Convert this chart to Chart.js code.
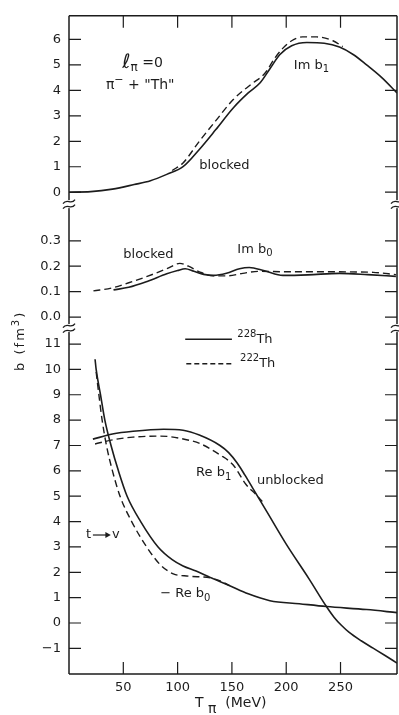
<!DOCTYPE html>
<html>
<head>
<meta charset="utf-8">
<script src="https://cdn.jsdelivr.net/npm/chart.js@4.4.1/dist/chart.umd.min.js"></script>
<style>
  html, body { margin: 0; padding: 0; background: #fff; }
  #wrap { position: relative; width: 399px; height: 715px; }
</style>
</head>
<body>
<div id="wrap"><canvas id="bChart" width="399" height="715"></canvas></div>
<script>
// T_pi in MeV, b in fm^3.  228Th drawn solid, 222Th dashed.
const imB1T228 = [0, 20, 40, 60, 75, 90, 105, 120, 135, 151, 165, 176, 185, 194, 205, 219, 235, 249, 262, 274, 288, 302];
const imB1V228 = [0, 0.02, 0.12, 0.3, 0.45, 0.7, 1.0, 1.68, 2.45, 3.3, 3.9, 4.3, 4.85, 5.4, 5.75, 5.88, 5.85, 5.7, 5.4, 5.0, 4.5, 3.9];
const imB1T222 = [95, 105, 120, 135, 151, 168, 180, 190, 197, 205, 215, 228, 243, 252];
const imB1V222 = [0.85, 1.15, 2.0, 2.8, 3.63, 4.25, 4.65, 5.3, 5.66, 5.95, 6.1, 6.1, 5.95, 5.72];

const imB0T228 = [41, 55, 72, 90, 100, 107, 115, 124, 133, 145, 157, 166, 180, 197, 220, 249, 275, 301];
const imB0V228 = [0.107, 0.117, 0.14, 0.17, 0.183, 0.19, 0.18, 0.168, 0.164, 0.172, 0.19, 0.195, 0.182, 0.164, 0.166, 0.172, 0.167, 0.16];
const imB0T222 = [22.5, 40, 55, 72, 90, 102, 110, 120, 133, 145, 160, 175, 201, 240, 280, 301];
const imB0V222 = [0.103, 0.115, 0.135, 0.16, 0.19, 0.211, 0.2, 0.178, 0.162, 0.162, 0.172, 0.18, 0.178, 0.178, 0.176, 0.167];

const reB1T228 = [22, 40, 59, 87, 105, 120, 139, 147, 155, 162, 169, 182, 200, 221, 237, 244, 251, 258, 269, 280, 291, 302];
const reB1V228 = [7.25, 7.45, 7.56, 7.64, 7.6, 7.41, 7.0, 6.72, 6.3, 5.83, 5.33, 4.4, 3.11, 1.74, 0.65, 0.23, -0.1, -0.37, -0.7, -0.99, -1.28, -1.58];
const reB1T222 = [24, 40, 59, 84, 114, 121, 139, 151, 163, 172, 178];
const reB1V222 = [7.06, 7.22, 7.33, 7.37, 7.17, 7.07, 6.63, 6.24, 5.46, 5.07, 4.79];

const reB0T228 = [24, 25, 29, 33, 38.7, 45.5, 53.5, 66, 82, 95, 105, 117, 130, 148, 165, 185, 212, 237, 274, 302];
const reB0V228 = [10.4, 10.0, 9.0, 8.0, 7.0, 6.0, 5.0, 4.0, 3.0, 2.5, 2.25, 2.05, 1.8, 1.47, 1.15, 0.88, 0.76, 0.65, 0.53, 0.41];
const reB0T222 = [25, 27.5, 30.5, 34.5, 40, 47, 57.7, 71.5, 84, 96, 110, 130, 140, 148];
const reB0V222 = [9.9, 9.0, 8.0, 7.0, 6.0, 5.0, 4.0, 3.0, 2.3, 1.94, 1.85, 1.78, 1.65, 1.47];

const xTicks = [50, 100, 150, 200, 250];
const topTicks = [0, 1, 2, 3, 4, 5, 6];
const midTicks = [0, 0.1, 0.2, 0.3];
const botTicks = [-1, 0, 1, 2, 3, 4, 5, 6, 7, 8, 9, 10, 11];

const ink = '#1c1c1c';
const face = '"DejaVu Sans", "Liberation Sans", sans-serif';

function pts(xs, ys) {
  return xs.map((x, i) => ({ x: x, y: ys[i] }));
}

function line(data, axis, dashed) {
  return {
    data: data,
    yAxisID: axis,
    borderColor: ink,
    borderWidth: dashed ? 1.4 : 1.6,
    borderDash: dashed ? [7, 4] : [],
    pointRadius: 0,
    cubicInterpolationMode: 'monotone',
    fill: false
  };
}

function keepTicks(list) {
  return function (scale) {
    scale.ticks = list.map(v => ({ value: v }));
  };
}

function yAxis(min, max, weight, stackWeight, list, digits) {
  return {
    type: 'linear',
    position: 'left',
    stack: 'b',
    stackWeight: stackWeight,
    weight: weight,
    min: min,
    max: max,
    grid: { display: false, drawTicks: false },
    border: { display: false },
    afterBuildTicks: keepTicks(list),
    afterFit: function (scale) { scale.width = 69; },
    ticks: {
      color: ink,
      padding: 8,
      autoSkip: false,
      font: { family: face, size: 13 },
      callback: v => (digits ? Number(v).toFixed(digits) : String(v)).replace('-', '\u2212')
    }
  };
}

// rich text: parts are [text, relative size, vertical offset]
function rich(ctx, x, y, parts, size) {
  let cx = x;
  for (const [t, s, dy] of parts) {
    ctx.font = Math.round(size * s) + 'px ' + face;
    ctx.fillText(t, cx, y + dy);
    cx += ctx.measureText(t).width;
  }
}

function squiggle(ctx, x, y) {
  ctx.save();
  ctx.fillStyle = '#fff';
  ctx.fillRect(x - 3, y - 4, 6, 8);
  ctx.lineWidth = 1.3;
  for (const off of [-2.5, 2.5]) {
    ctx.beginPath();
    ctx.moveTo(x - 6, y + off + 2);
    ctx.bezierCurveTo(x - 2, y + off - 4, x + 2, y + off + 4, x + 6, y + off - 2);
    ctx.stroke();
  }
  ctx.restore();
}

const framePlugin = {
  id: 'frame',
  afterDraw(chart) {
    const { ctx, chartArea: a, scales } = chart;
    const xs = scales.x, yt = scales.yTop, ym = scales.yMid, yb = scales.yBot;
    const breaks = [yt.bottom, ym.bottom];

    ctx.save();
    ctx.strokeStyle = ink;
    ctx.fillStyle = ink;
    ctx.lineWidth = 1.5;

    ctx.beginPath();
    ctx.moveTo(a.left, a.top); ctx.lineTo(a.right, a.top);
    ctx.moveTo(a.left, a.bottom); ctx.lineTo(a.right, a.bottom);
    ctx.moveTo(a.left, a.top); ctx.lineTo(a.left, a.bottom);
    ctx.moveTo(a.right, a.top); ctx.lineTo(a.right, a.bottom);
    ctx.stroke();

    // inward tick marks on all four sides
    ctx.lineWidth = 1.2;
    ctx.beginPath();
    for (const s of [yt, ym, yb]) {
      for (const t of s.ticks) {
        const py = s.getPixelForValue(t.value);
        ctx.moveTo(a.left, py); ctx.lineTo(a.left + 12, py);
        ctx.moveTo(a.right, py); ctx.lineTo(a.right - 12, py);
      }
    }
    for (const t of xs.ticks) {
      const px = xs.getPixelForValue(t.value);
      ctx.moveTo(px, a.top); ctx.lineTo(px, a.top + 12);
      ctx.moveTo(px, a.bottom); ctx.lineTo(px, a.bottom - 12);
    }
    ctx.stroke();

    for (const by of breaks) {
      squiggle(ctx, a.left, by);
      squiggle(ctx, a.right, by);
    }

    const X = v => xs.getPixelForValue(v);
    ctx.textBaseline = 'middle';
    ctx.textAlign = 'left';

    // top panel
    rich(ctx, X(49), yt.getPixelForValue(5.06), [['\u2113', 1.4, -1], ['\u03c0', 0.85, 4], [' =0', 1, 0]], 14);
    rich(ctx, X(34), yt.getPixelForValue(4.21), [['\u03c0', 1, 0], ['\u2212', 0.8, -5], [' + "Th"', 1, 0]], 14);
    rich(ctx, X(207), yt.getPixelForValue(4.99), [['Im b', 1, 0], ['1', 0.75, 4]], 13);
    rich(ctx, X(120), yt.getPixelForValue(1.05), [['blocked', 1, 0]], 13);

    // middle panel
    rich(ctx, X(50), ym.getPixelForValue(0.245), [['blocked', 1, 0]], 13);
    rich(ctx, X(155), ym.getPixelForValue(0.265), [['Im b', 1, 0], ['0', 0.75, 4]], 13);

    // legend
    const l1 = yb.getPixelForValue(11.19), l2 = yb.getPixelForValue(10.22);
    ctx.lineWidth = 1.6;
    ctx.beginPath();
    ctx.moveTo(X(107), l1); ctx.lineTo(X(150), l1);
    ctx.stroke();
    ctx.lineWidth = 1.4;
    ctx.setLineDash([5, 3]);
    ctx.beginPath();
    ctx.moveTo(X(108), l2); ctx.lineTo(X(152), l2);
    ctx.stroke();
    ctx.setLineDash([]);
    rich(ctx, X(155), l1, [['228', 0.8, -5], ['Th', 1, 0]], 13);
    rich(ctx, X(157.5), l2, [['222', 0.8, -5], ['Th', 1, 0]], 13);

    // bottom panel
    rich(ctx, X(117), yb.getPixelForValue(5.91), [['Re b', 1, 0], ['1', 0.75, 4]], 13);
    rich(ctx, X(173), yb.getPixelForValue(5.6), [['unblocked', 1, 0]], 13);
    rich(ctx, X(84), yb.getPixelForValue(1.14), [['\u2212 Re b', 1, 0], ['0', 0.75, 4]], 13);

    const ty = yb.getPixelForValue(3.47);
    rich(ctx, X(15.7), ty, [['t', 1, 0]], 13);
    ctx.lineWidth = 1.2;
    ctx.beginPath();
    ctx.moveTo(X(22), ty); ctx.lineTo(X(36), ty);
    ctx.stroke();
    ctx.beginPath();
    ctx.moveTo(X(38.5), ty); ctx.lineTo(X(33.5), ty - 3); ctx.lineTo(X(33.5), ty + 3);
    ctx.closePath();
    ctx.fill();
    rich(ctx, X(39.6), ty, [['v', 1, 0]], 13);

    // axis titles
    rich(ctx, 195, 703, [['T', 1.05, 0], [' \u03c0', 1.05, 6], ['  (MeV)', 1.05, 0]], 13);
    ctx.translate(21, 341);
    ctx.rotate(-Math.PI / 2);
    ctx.textAlign = 'left';
    ctx.letterSpacing = '2px';
    ctx.font = '13px ' + face;
    const w = ctx.measureText('b (fm').width + ctx.measureText(')').width + 8;
    rich(ctx, -w / 2, 0, [['b (fm', 1, 0], ['3', 0.75, -5], [')', 1, 0]], 13);
    ctx.restore();
  }
};

new Chart(document.getElementById('bChart'), {
  type: 'line',
  data: {
    datasets: [
      line(pts(imB1T228, imB1V228), 'yTop', false),
      line(pts(imB1T222, imB1V222), 'yTop', true),
      line(pts(imB0T228, imB0V228), 'yMid', false),
      line(pts(imB0T222, imB0V222), 'yMid', true),
      line(pts(reB1T228, reB1V228), 'yBot', false),
      line(pts(reB1T222, reB1V222), 'yBot', true),
      line(pts(reB0T228, reB0V228), 'yBot', false),
      line(pts(reB0T222, reB0V222), 'yBot', true)
    ]
  },
  options: {
    responsive: false,
    animation: false,
    layout: { padding: { left: 0, right: 2, top: 10, bottom: 0 } },
    plugins: { legend: { display: false }, tooltip: { enabled: false } },
    scales: {
      x: {
        type: 'linear',
        position: 'bottom',
        min: 0,
        max: 302,
        grid: { display: false, drawTicks: false },
        border: { display: false },
        afterBuildTicks: keepTicks(xTicks),
        afterFit: function (scale) { scale.height = 41; },
        ticks: {
          color: ink,
          padding: 6,
          maxRotation: 0,
          autoSkip: false,
          font: { family: face, size: 13 }
        }
      },
      yBot: yAxis(-2.01, 11.63, 1, 349, botTicks, 0),
      yMid: yAxis(-0.043, 0.444, 2, 125, midTicks, 1),
      yTop: yAxis(-0.47, 6.93, 3, 190, topTicks, 0)
    }
  },
  plugins: [framePlugin]
});
</script>
</body>
</html>
